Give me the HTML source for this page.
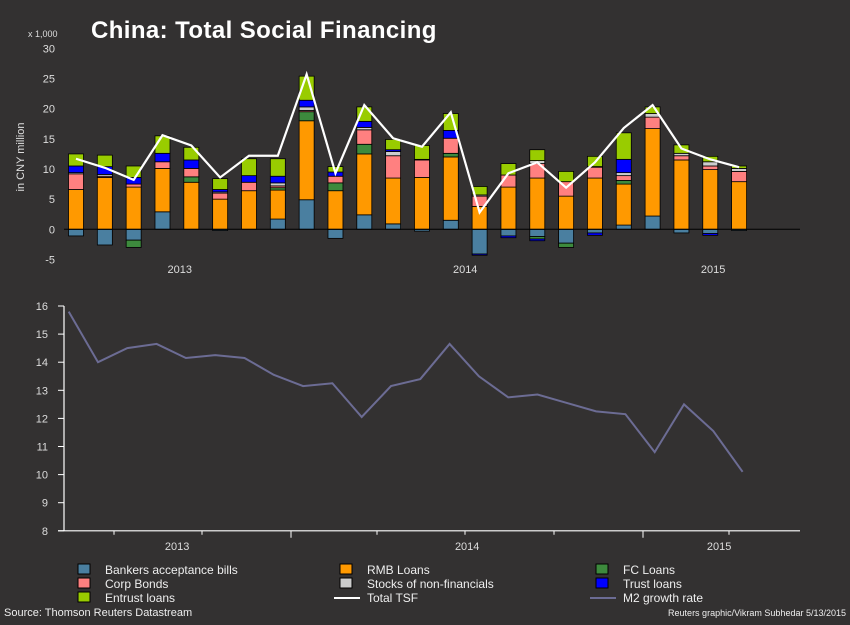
<!DOCTYPE html>
<html><head><meta charset="utf-8"><style>
html,body{margin:0;padding:0;background:#333131;}
svg{display:block;font-family:"Liberation Sans",sans-serif;}
</style></head><body>
<svg id="c" width="850" height="625" viewBox="0 0 850 625">
<rect x="0" y="0" width="850" height="625" fill="#333131"/>
<text x="91" y="38" fill="#fff" font-size="24" font-weight="bold" letter-spacing="0.4">China: Total Social Financing</text>
<text x="28" y="37" fill="#ddd" font-size="9">x 1,000</text>
<text x="0" y="0" fill="#ddd" font-size="11" transform="translate(24,157) rotate(-90)" text-anchor="middle">in CNY million</text>
<g id="topChart"></g>
<g id="botChart"></g>
<g id="legend" font-size="12" fill="#eee"></g>
<text x="4" y="616" fill="#eee" font-size="11">Source: Thomson Reuters Datastream</text>
<text x="846" y="616" fill="#eee" font-size="9" text-anchor="end">Reuters graphic/Vikram Subhedar 5/13/2015</text>
</svg>
<script>
const bankers=[-1.1,-2.6,-1.8,2.9,0,-0.2,0,1.7,4.9,-1.5,2.4,0.9,-0.3,1.5,-4.1,-1.1,-1.2,-2.3,-0.6,0.7,2.2,-0.6,-0.7,-0.2];
const rmb=[6.6,8.6,7.0,7.2,7.8,5.0,6.4,4.8,13.1,6.4,10.1,7.6,8.6,10.5,3.8,7.0,8.5,5.5,8.5,6.8,14.5,11.5,9.9,7.9];
const fcLoans=[0,0,-1.2,0,0.9,0,0,0.4,1.5,1.3,1.6,0,0,0.6,0,0,-0.4,-0.7,0,0.6,0,0,0,0];
const corpBonds=[2.6,0.2,0.5,1.1,1.4,1.0,1.4,0.3,0.2,1.1,2.4,3.7,2.9,2.5,1.7,2.0,2.4,2.4,1.8,0.8,1.9,0.7,0.6,1.7];
const stocks=[0.2,0.3,0,0,0,0.2,0,0.5,0.6,0,0.4,0.7,0.1,0,0.2,0,0.5,0,0.1,0.5,0.6,0.4,0.7,0.5];
const trust=[1.1,1.3,1.1,1.4,1.4,0.4,1.1,1.1,1.1,0.7,1.0,0.3,0,1.3,-0.2,-0.3,-0.3,0,-0.4,2.2,0,0,-0.3,0];
const entrust=[2.0,1.9,1.9,2.9,2.1,1.8,2.8,2.9,4.0,0.9,2.4,1.7,2.3,2.8,1.4,1.9,1.8,1.7,1.7,4.4,1.1,1.4,0.9,0.4];
const totalTSF=[11.7,10.2,8.2,15.6,13.9,8.6,12.2,12.2,25.7,9.3,20.6,15.1,13.7,19.4,2.8,9.3,11.1,6.9,11.1,16.8,20.6,13.4,11.6,10.3];
const m2=[15.8,14.0,14.5,14.65,14.15,14.25,14.15,13.55,13.15,13.25,12.05,13.15,13.4,14.65,13.5,12.75,12.85,12.55,12.25,12.15,10.8,12.5,11.55,10.1];
const topTicks=[30,25,20,15,10,5,0,-5];
const botTicks=[16,15,14,13,12,11,10,9,8];
const yearLabels=["2013","2014","2015"];
const topYearIdx=[3.6,13.5,22.1];
const botYearIdx=[3.7,13.6,22.2];

const NS="http://www.w3.org/2000/svg";
function mk(tag,attrs,parent){const e=document.createElementNS(NS,tag);for(const k in attrs)e.setAttribute(k,attrs[k]);parent.appendChild(e);return e;}
const topG=document.getElementById('topChart'),botG=document.getElementById('botChart'),lg=document.getElementById('legend');
const tx=i=>76+i*28.83;
const ty=v=>229.3-v*6.03;
const bx=i=>68.7+i*29.3;
const by=v=>306+(16-v)*28.1;

topTicks.forEach(t=>{const e=mk('text',{x:55,y:ty(t)+4,fill:'#ddd','font-size':11,'text-anchor':'end'},topG);e.textContent=t;

});
yearLabels.forEach((l,k)=>{const e=mk('text',{x:tx(topYearIdx[k]),y:273,fill:'#ddd','font-size':11,'text-anchor':'middle'},topG);e.textContent=l;

});

const series=[['bankers',bankers,'#4a7fa0'],['rmb-loans',rmb,'#ff9900'],['fc-loans',fcLoans,'#3d8a3d'],['corp-bonds',corpBonds,'#ff8080'],['stocks',stocks,'#cccccc'],['trust-loans',trust,'#0000ff'],['entrust-loans',entrust,'#99cc00']];
for(let i=0;i<rmb.length;i++){
  let pos=0,neg=0;
  series.forEach(([name,arr,col])=>{
    const v=arr[i];if(!v)return;
    let y0,y1;
    if(v>0){y0=pos;y1=pos+v;pos=y1;}else{y0=neg;y1=neg+v;neg=y1;}
    const r=mk('rect',{x:tx(i)-7.5,y:Math.min(ty(y0),ty(y1)),width:15,height:Math.abs(ty(y0)-ty(y1)),fill:col,stroke:'#000','stroke-width':0.8},topG);
    
    
  });
}
const zl=mk('line',{x1:64,x2:800,y1:ty(0),y2:ty(0),stroke:'#000','stroke-width':1},topG);


const tl=mk('polyline',{points:totalTSF.map((v,i)=>tx(i)+','+ty(v)).join(' '),fill:'none',stroke:'#fff','stroke-width':2.2},topG);



botTicks.forEach(t=>{const e=mk('text',{x:48,y:by(t)+4,fill:'#ddd','font-size':11,'text-anchor':'end'},botG);e.textContent=t;


const tk=mk('line',{x1:58,x2:64,y1:by(t),y2:by(t),stroke:'#fff','stroke-width':1},botG);

});
const ya=mk('line',{x1:64,x2:64,y1:by(16),y2:by(8),stroke:'#fff','stroke-width':1.2},botG);


const xa=mk('line',{x1:58,x2:800,y1:by(8),y2:by(8),stroke:'#fff','stroke-width':1.2},botG);


[114,202,291,377,465,554,643,729].forEach(x=>{const tk=mk('line',{x1:x,x2:x,y1:by(8),y2:by(8)+(x==291||x==643?7:4),stroke:'#fff','stroke-width':1},botG);

});
yearLabels.forEach((l,k)=>{const e=mk('text',{x:bx(botYearIdx[k]),y:550,fill:'#ddd','font-size':11,'text-anchor':'middle'},botG);e.textContent=l;

});
const ml=mk('polyline',{points:m2.map((v,i)=>bx(i)+','+by(v)).join(' '),fill:'none',stroke:'#6c6c94','stroke-width':2},botG);



const items=[['Bankers acceptance bills','#4a7fa0',0,0,'box'],['RMB Loans','#ff9900',1,0,'box'],['FC Loans','#3d8a3d',2,0,'box'],
['Corp Bonds','#ff8080',0,1,'box'],['Stocks of non-financials','#cccccc',1,1,'box'],['Trust loans','#0000ff',2,1,'box'],
['Entrust loans','#99cc00',0,2,'box'],['Total TSF','#ffffff',1,2,'line'],['M2 growth rate','#6c6c94',2,2,'line']];
const colX=[78,340,596],rowY=[569,583,597];
items.forEach(([t,c,cx,ry,kind])=>{
  const x=colX[cx],y=rowY[ry];
  let s;
  if(kind==='box') s=mk('rect',{x:x,y:y-5,width:12,height:10,fill:c,stroke:'#000','stroke-width':1},lg);
  else s=mk('line',{x1:x-6,x2:x+20,y1:y+1,y2:y+1,stroke:c,'stroke-width':2},lg);
  
  
  const e=mk('text',{x:x+27,y:y+5,fill:'#eee','font-size':12},lg);e.textContent=t;
  
  
});
</script>
</body></html>
